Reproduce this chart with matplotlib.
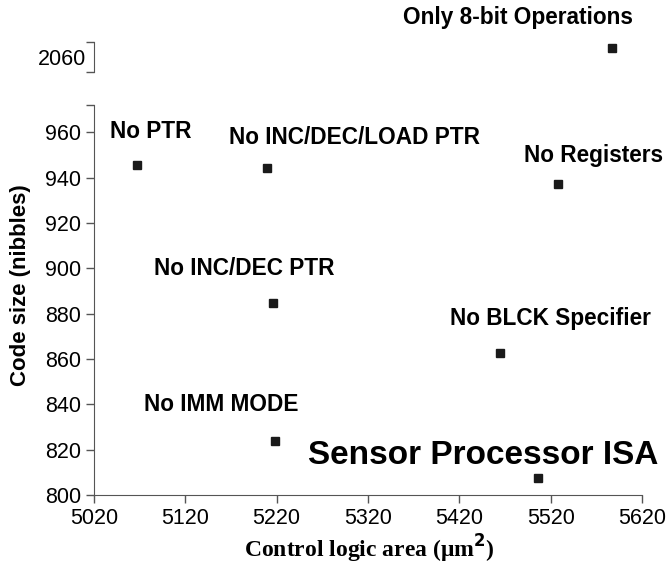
import numpy as np
from matplotlib import pyplot as plt

plt.rcParams['font.family'] = ['Liberation Sans', 'DejaVu Sans']

# data
labels = ['No PTR', 'No INC/DEC/LOAD PTR', 'No Registers', 'No INC/DEC PTR',
          'No BLCK Specifier', 'No IMM MODE', 'Sensor Processor ISA']
area = [5067, 5209, 5528, 5216, 5465, 5218, 5506]
code_size = [945.5, 944, 937, 884.5, 862.5, 824, 807.5]

top_label = 'Only 8-bit Operations'
top_area = [5587]
top_size = [2064]

x_ticks = [5020, 5120, 5220, 5320, 5420, 5520, 5620]
y_ticks = [800, 820, 840, 860, 880, 900, 920, 940, 960]

# label offsets in pixels (dx, dy) from each marker
offsets = [(14, 34), (88, 31), (36, 29), (-29, 35), (50, 35), (-54, 36), (-55, 23)]
sizes = [16.3, 16.3, 16.3, 16.3, 16.3, 16.3, 24]

spine_col = '#555555'
mk = dict(marker='s', ms=6, color='#1a1a1a', ls='none')

fig = plt.figure(figsize=(6.68, 5.66), dpi=100)
ax = fig.add_axes([0.1407, 0.1254, 0.8204, 0.6891])
ax2 = fig.add_axes([0.1407, 0.8728, 0.8204, 0.053])

ax.plot(area, code_size, **mk)
for lab, x, y, off, fs in zip(labels, area, code_size, offsets, sizes):
    ax.annotate(lab, (x, y), xytext=off, textcoords='offset pixels',
                ha='center', va='center', fontsize=fs, fontweight='bold')

ax.set_xlim(5020, 5620)
ax.set_ylim(800, 972)
ax.set_xticks(x_ticks)
ax.set_yticks(y_ticks)
ax.set_yticks([972], minor=True)
ax.tick_params(which='both', direction='out', length=6, width=1, color=spine_col,
               labelsize=15.5, pad=3)
ax.tick_params(axis='y', which='minor', labelleft=False)
for s in ['top', 'right']:
    ax.spines[s].set_visible(False)
for s in ['left', 'bottom']:
    ax.spines[s].set_color(spine_col)

ax2.plot(top_area, top_size, **mk)
ax2.annotate(top_label, (top_area[0], top_size[0]), xytext=(-94, 30),
             textcoords='offset pixels', ha='center', va='center',
             fontsize=16.3, fontweight='bold', annotation_clip=False)
ax2.set_xlim(5020, 5620)
ax2.set_ylim(2053.4, 2066.6)
ax2.set_xticks([])
ax2.set_yticks([2060])
ax2.set_yticks([2053.4, 2066.6], minor=True)
ax2.tick_params(axis='y', which='major', length=0, labelsize=15.5, pad=6)
ax2.tick_params(axis='y', which='minor', length=6, width=1, color=spine_col, labelleft=False)
for s in ['top', 'right', 'bottom']:
    ax2.spines[s].set_visible(False)
ax2.spines['left'].set_color(spine_col)
ax2.patch.set_alpha(0)

fig.text(369 / 668, 1 - 558 / 566, 'Control logic area (\u03bcm$^{\\mathbf{2}}$)', ha='center',
         va='baseline', fontsize=17, fontweight='bold', family='Liberation Serif')
fig.text(0.03, 0.497, 'Code size (nibbles)', rotation=90, ha='center', va='center',
         fontsize=16, fontweight='bold')

fig.savefig('out.png', dpi=100)
